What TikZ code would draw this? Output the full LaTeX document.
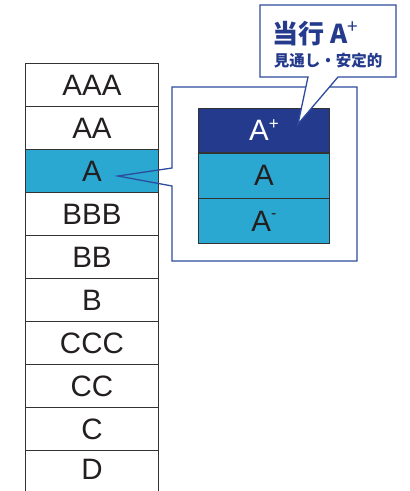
\documentclass[tikz,border=0pt]{standalone}
\usepackage{fontspec}
\setmainfont{Liberation Sans}
\newfontfamily\cjk{Noto Sans CJK JP}
\definecolor{cellline}{HTML}{333333}
\definecolor{textgray}{HTML}{231F20}
\definecolor{hicyan}{HTML}{2AA8D2}
\definecolor{darkblue}{HTML}{243A8C}
\definecolor{callblue}{HTML}{2E4C9E}
\begin{document}
\begin{tikzpicture}[x=1pt,y=-1pt,
  cell/.style={draw=cellline, line width=0.9pt, minimum width=133pt, minimum height=43pt,
    inner sep=0pt, text height=21pt, text depth=0pt, anchor=north west,
    font=\fontsize{29.5}{30}\selectfont, text=textgray},
  inbox/.style={draw=cellline, line width=0.9pt, minimum width=131pt,
    inner sep=0pt, text height=21pt, text depth=0pt, anchor=north west,
    font=\fontsize{29.5}{30}\selectfont},
  callout/.style={draw=callblue, line width=1.3pt, line join=miter}]
\useasboundingbox (0,0) rectangle (410,491);
% left column
\node[cell] (aaa) at (25,63) {AAA};
\node[cell] (aa) at (25,106) {AA};
\node[cell, fill=hicyan] (a) at (25,149) {A};
\node[cell] (bbb) at (25,192) {BBB};
\node[cell] (bb) at (25,235) {BB};
\node[cell] (b) at (25,278) {B};
\node[cell] (ccc) at (25,321) {CCC};
\node[cell] (cc) at (25,364) {CC};
\node[cell] (c) at (25,407) {C};
\node[cell, draw=none, minimum height=38pt] (d) at (25,450) {D};
\draw[draw=cellline, line width=0.9pt] (d.north west) -- ++(0,45);
\draw[draw=cellline, line width=0.9pt] (d.north east) -- ++(0,45);
% big callout
\coordinate (ltip) at (118,176);
\draw[callout] (172,186) -- (172,261) -- (357,261) -- (357,87) -- (172,87) -- (172,168) -- (ltip) -- cycle;
% inner boxes
\node[inbox, fill=darkblue, text=white, minimum height=44pt] (ap) at (198,108)
  {A\raisebox{11pt}{\fontsize{17}{17}\selectfont +}};
\node[inbox, fill=hicyan, text=textgray, minimum height=46pt] (am) at (198,152) {A};
\node[inbox, fill=hicyan, text=textgray, minimum height=45pt] (an) at (198,198)
  {A\raisebox{13pt}{\fontsize{16}{16}\selectfont -}};
\draw[draw=cellline, line width=1.8pt] (ap.south west) -- (ap.south east);
% top callout
\coordinate (ttip) at (298,124);
\draw[callout, fill=white] (260,5) -- (396,5) -- (396,77) -- (338,77) -- (ttip) -- (308,77) -- (260,77) -- cycle;
\node[text=darkblue, font=\cjk\bfseries\fontsize{26}{26}\selectfont, anchor=base west, inner sep=0pt] (title) at (272,43)
  {当行 A\raisebox{10pt}{\fontsize{19}{19}\selectfont\mdseries +}};
\node[text=darkblue, font=\cjk\bfseries\fontsize{15.5}{16}\selectfont, anchor=base] (sub) at (328,66) {見通し・安定的};
\end{tikzpicture}
\end{document}
